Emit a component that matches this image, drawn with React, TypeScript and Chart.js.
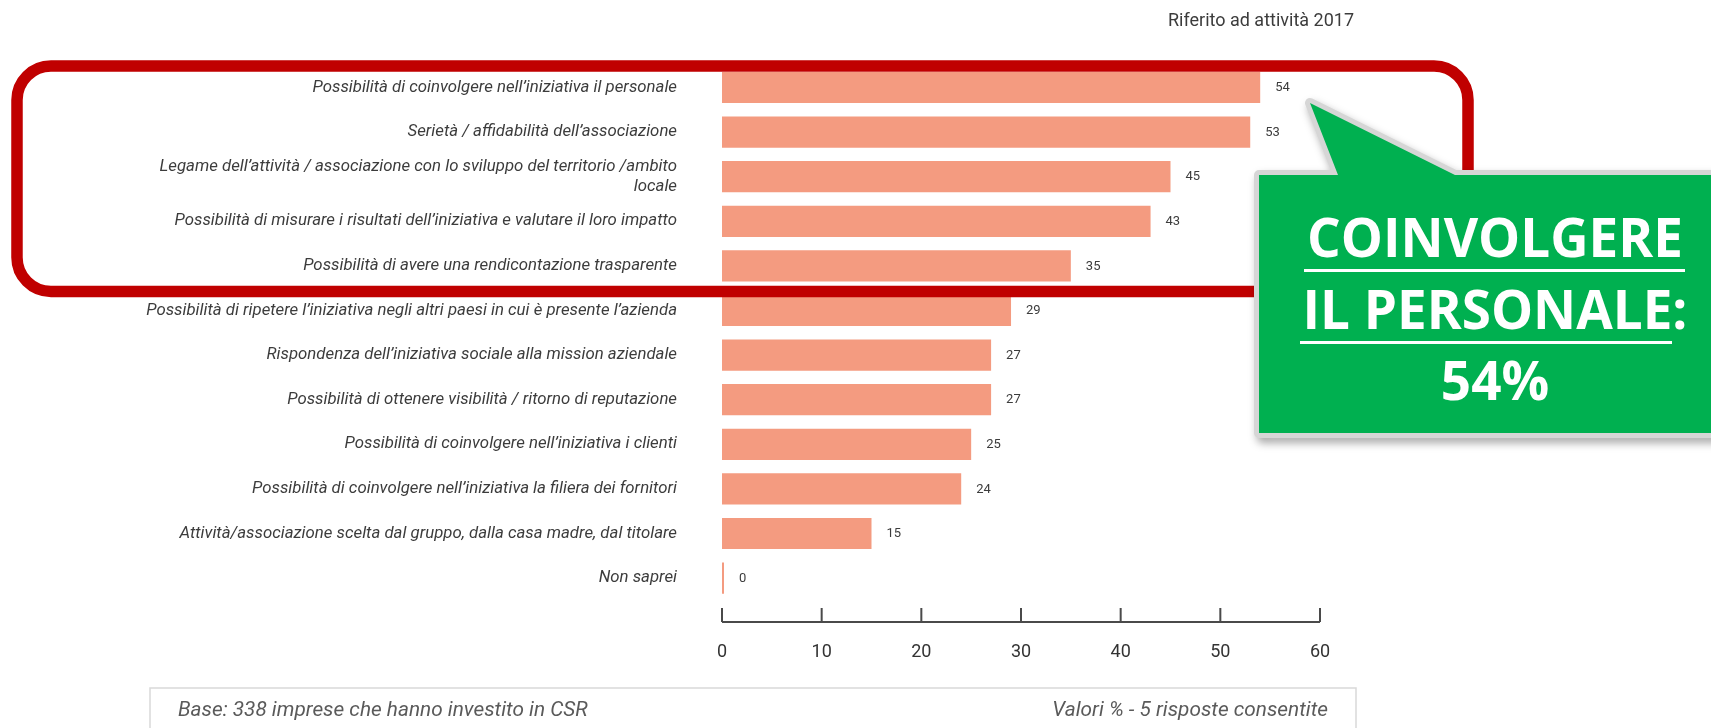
import React, { useEffect, useRef } from "react";
import { Chart, registerables } from "chart.js";

Chart.register(...registerables);

const categories: (string | string[])[] = [
  "Possibilità di coinvolgere nell’iniziativa il personale",
  "Serietà / affidabilità dell’associazione",
  ["Legame dell’attività / associazione con lo sviluppo del territorio /ambito", "locale"],
  "Possibilità di misurare i risultati dell’iniziativa e valutare il loro impatto",
  "Possibilità di avere una rendicontazione trasparente",
  "Possibilità di ripetere l’iniziativa negli altri paesi in cui è presente l’azienda",
  "Rispondenza dell’iniziativa sociale alla mission aziendale",
  "Possibilità di ottenere visibilità / ritorno di reputazione",
  "Possibilità di coinvolgere nell’iniziativa i clienti",
  "Possibilità di coinvolgere nell’iniziativa la filiera dei fornitori",
  "Attività/associazione scelta dal gruppo, dalla casa madre, dal titolare",
  "Non saprei",
];

const values: number[] = [54, 53, 45, 43, 35, 29, 27, 27, 25, 24, 15, 0];

const xMin = 0;
const xMax = 60;
const xStep = 10;

const titleText = "Riferito ad attività 2017";
const calloutLines = ["COINVOLGERE", "IL PERSONALE:", "54%"];
const footerLeft = "Base: 338 imprese che hanno investito in CSR";
const footerRight = "Valori % - 5 risposte consentite";

const W = 1711;
const H = 728;

const BAR_COLOR = "#F49B80";
const TEXT_DARK = "#3c3c3c";

const decorPlugin = {
  id: "decor",
  afterDatasetsDraw(chart: any) {
    const ctx = chart.ctx as CanvasRenderingContext2D;
    const meta = chart.getDatasetMeta(0);
    ctx.save();
    ctx.font = "13px Roboto";
    ctx.fillStyle = TEXT_DARK;
    ctx.textAlign = "left";
    ctx.textBaseline = "middle";
    meta.data.forEach((bar: any, i: number) => {
      ctx.fillText(String(values[i]), bar.x + 15, bar.y + 0.5);
    });
    ctx.restore();
  },
  afterDraw(chart: any) {
    const ctx = chart.ctx as CanvasRenderingContext2D;
    const xs = chart.scales.x;
    const area = chart.chartArea;

    // bottom axis line with upward ticks
    const axisY = area.bottom + 21.5;
    ctx.save();
    ctx.strokeStyle = "#4a4a4a";
    ctx.lineWidth = 2;
    ctx.beginPath();
    ctx.moveTo(xs.getPixelForValue(xMin), axisY);
    ctx.lineTo(xs.getPixelForValue(xMax), axisY);
    for (let v = xMin; v <= xMax; v += xStep) {
      const px = xs.getPixelForValue(v);
      ctx.moveTo(px, axisY);
      ctx.lineTo(px, axisY - 14);
    }
    ctx.stroke();
    ctx.restore();

    // title
    ctx.save();
    ctx.font = "18px Roboto";
    ctx.fillStyle = TEXT_DARK;
    ctx.textAlign = "center";
    ctx.textBaseline = "middle";
    ctx.fillText(titleText, 1261, 21);
    ctx.restore();

    // footer box
    ctx.save();
    ctx.strokeStyle = "#d9d9d9";
    ctx.lineWidth = 1.5;
    ctx.strokeRect(150, 688, 1206, 60);
    ctx.font = "italic 20.8px Roboto";
    ctx.fillStyle = "#5a5a5a";
    ctx.textBaseline = "middle";
    ctx.textAlign = "left";
    ctx.fillText(footerLeft, 178, 711);
    ctx.textAlign = "right";
    ctx.fillText(footerRight, 1328, 711);
    ctx.restore();

    // red highlight rounded rectangle
    ctx.save();
    ctx.strokeStyle = "#C00000";
    ctx.lineWidth = 11.5;
    ctx.beginPath();
    (ctx as any).roundRect(17, 66, 1451, 225.5, 34);
    ctx.stroke();
    ctx.restore();

    // green callout
    ctx.save();
    const path = new Path2D();
    path.moveTo(1259, 175);
    path.lineTo(1338, 175);
    path.lineTo(1310, 103);
    path.lineTo(1455, 175);
    path.lineTo(1730, 175);
    path.lineTo(1730, 433);
    path.lineTo(1259, 433);
    path.closePath();
    ctx.lineJoin = "round";
    ctx.shadowColor = "rgba(0,0,0,0.35)";
    ctx.shadowBlur = 8;
    ctx.shadowOffsetX = 3;
    ctx.shadowOffsetY = 5;
    ctx.strokeStyle = "#d6d6d6";
    ctx.lineWidth = 10;
    ctx.stroke(path);
    ctx.shadowColor = "transparent";
    ctx.fillStyle = "#00B050";
    ctx.fill(path);

    ctx.fillStyle = "#ffffff";
    ctx.font = "bold 53px 'Open Sans'";
    ctx.textAlign = "center";
    ctx.textBaseline = "alphabetic";
    const cx = 1495;
    ctx.fillText(calloutLines[0], cx, 257);
    ctx.fillText(calloutLines[1], cx, 329);
    ctx.fillText(calloutLines[2], cx, 400);
    ctx.fillRect(1304, 269, 381, 3);
    ctx.fillRect(1300, 341, 372, 3);
    ctx.restore();
  },
};

export default function App() {
  const canvasRef = useRef<HTMLCanvasElement | null>(null);

  useEffect(() => {
    const canvas = canvasRef.current;
    if (!canvas) return;
    const chart = new Chart(canvas, {
      type: "bar",
      data: {
        labels: categories as any,
        datasets: [
          {
            data: values,
            backgroundColor: BAR_COLOR,
            borderWidth: 0,
            barPercentage: 0.7,
            categoryPercentage: 1.0,
            minBarLength: 2,
          },
        ],
      },
      options: {
        indexAxis: "y",
        responsive: false,
        animation: false,
        devicePixelRatio: 1,
        layout: { padding: { top: 65.2, right: W - 1320, bottom: 0, left: 0 } },
        plugins: {
          legend: { display: false },
          tooltip: { enabled: false },
          title: { display: false },
        },
        scales: {
          y: {
            type: "category",
            grid: { display: false, drawTicks: false },
            border: { display: false },
            ticks: {
              autoSkip: false,
              padding: 45,
              color: TEXT_DARK,
              font: { family: "Roboto", style: "italic", size: 16.8, lineHeight: 1.15 },
            },
            afterFit: (s: any) => {
              s.width = 722;
            },
          },
          x: {
            type: "linear",
            min: xMin,
            max: xMax,
            grid: { display: false, drawTicks: false },
            border: { display: false },
            ticks: {
              stepSize: xStep,
              padding: 41,
              color: "#333333",
              font: { family: "Roboto", size: 18 },
            },
            afterFit: (s: any) => {
              s.height = H - 600.4;
            },
          },
        },
      } as any,
      plugins: [decorPlugin],
    });
    return () => chart.destroy();
  }, []);

  return (
    <div style={{ position: "absolute", left: 0, top: 0, width: W, height: H, background: "#ffffff" }}>
      <canvas ref={canvasRef} width={W} height={H} style={{ display: "block" }} />
    </div>
  );
}
